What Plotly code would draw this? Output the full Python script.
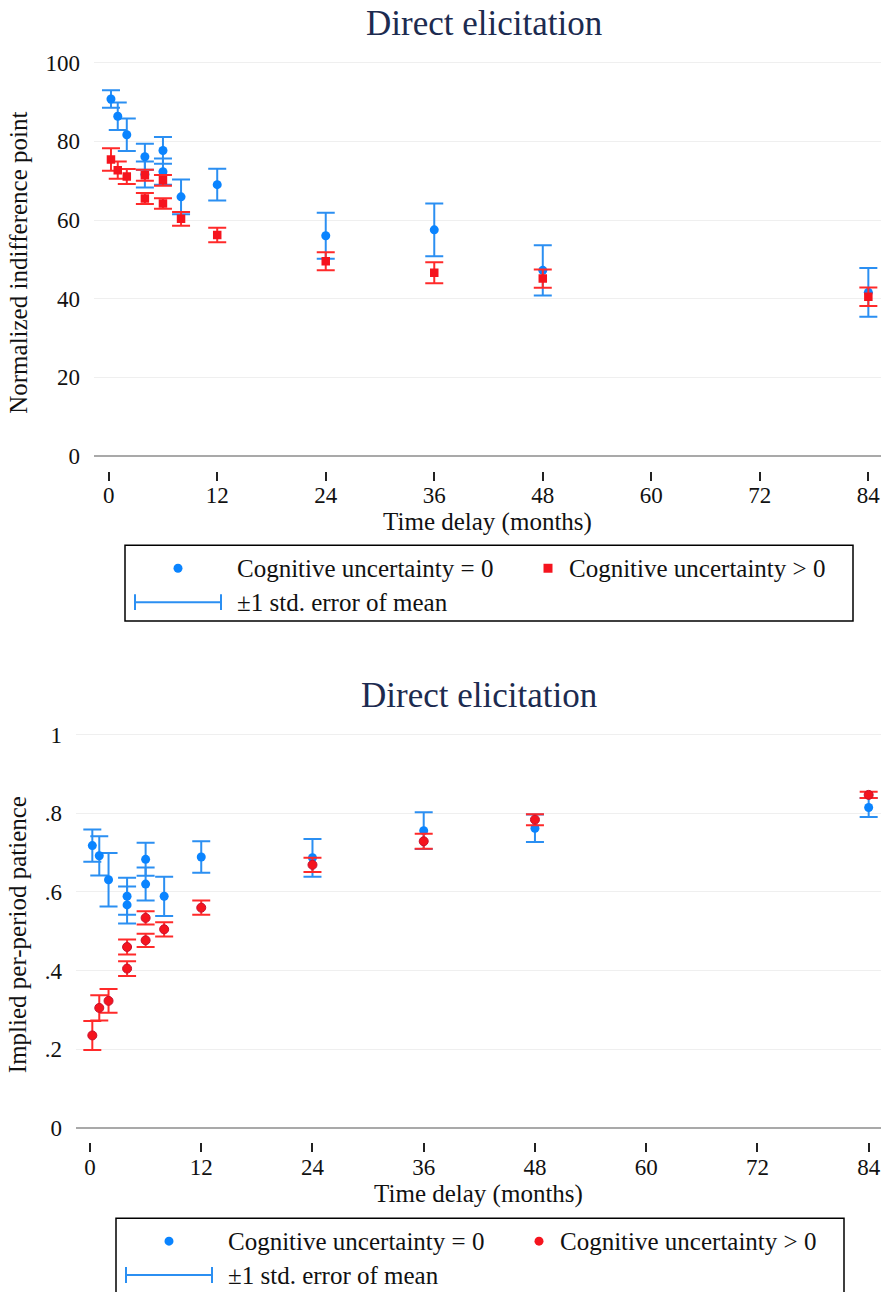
import plotly.graph_objects as go

# ---------------- data ----------------
delay = [0.25, 1, 2, 4, 4, 6, 6, 8, 12, 24, 36, 48, 84]
x_tick_vals = [0, 12, 24, 36, 48, 60, 72, 84]

# top panel: normalized indifference point
norm_cu0 = [90.8, 86.4, 81.7, 76.1, 71.6, 77.7, 72.3, 65.9, 69.0, 56.0, 57.5, 47.2, 41.6]
norm_cu0_se = [2.25, 3.5, 4.15, 3.3, 3.3, 3.4, 3.35, 4.4, 4.05, 5.85, 6.7, 6.4, 6.2]
norm_cu1 = [75.4, 72.7, 71.1, 71.4, 65.5, 70.1, 64.2, 60.3, 56.2, 49.5, 46.6, 45.1, 40.5]
norm_cu1_se = [2.85, 2.2, 1.9, 1.4, 1.4, 1.35, 1.35, 1.75, 1.85, 2.3, 2.65, 2.3, 2.35]
norm_y_ticks = [0, 20, 40, 60, 80, 100]

# bottom panel: implied per-period patience
pat_cu0 = [0.718, 0.692, 0.631, 0.589, 0.567, 0.683, 0.620, 0.589, 0.689, 0.687, 0.756, 0.762, 0.815]
pat_cu0_se = [0.041, 0.05, 0.068, 0.047, 0.047, 0.042, 0.042, 0.05, 0.04, 0.048, 0.047, 0.035, 0.024]
pat_cu1 = [0.235, 0.305, 0.323, 0.460, 0.405, 0.534, 0.477, 0.505, 0.560, 0.669, 0.729, 0.784, 0.847]
pat_cu1_se = [0.037, 0.032, 0.03, 0.019, 0.019, 0.017, 0.017, 0.018, 0.018, 0.018, 0.019, 0.014, 0.008]
pat_y_ticks = [0, 0.2, 0.4, 0.6, 0.8, 1]
pat_y_labels = ["0", ".2", ".4", ".6", ".8", "1"]

title_text = "Direct elicitation"
x_title = "Time delay (months)"
y_title_top = "Normalized indifference point"
y_title_bottom = "Implied per-period patience"
legend_labels = ["Cognitive uncertainty = 0", "Cognitive uncertainty > 0", "±1 std. error of mean"]

# ---------------- style ----------------
W, H = 881, 1292
FONT = "Liberation Serif"
BLUE = "#0a84ff"
BLUE_ERR = "#2b8ff2"
RED = "#f5141e"
RED_ERR = "#ff2a2a"
TITLE_COLOR = "#1c2b50"


def px(x):
    return x / W


def py(y):
    return 1 - y / H


fig = go.Figure()

# top panel
fig.add_trace(go.Scatter(
    x=delay, y=norm_cu0, mode="markers", name=legend_labels[0], showlegend=False,
    marker=dict(color=BLUE, size=9),
    error_y=dict(type="data", array=norm_cu0_se, color=BLUE_ERR, thickness=2, width=9),
    xaxis="x", yaxis="y"))
fig.add_trace(go.Scatter(
    x=delay, y=norm_cu1, mode="markers", name=legend_labels[1], showlegend=False,
    marker=dict(color=RED, size=8.5, symbol="square"),
    error_y=dict(type="data", array=norm_cu1_se, color=RED_ERR, thickness=2, width=9),
    xaxis="x", yaxis="y"))

# bottom panel
fig.add_trace(go.Scatter(
    x=delay, y=pat_cu0, mode="markers", name=legend_labels[0], showlegend=False,
    marker=dict(color=BLUE, size=9),
    error_y=dict(type="data", array=pat_cu0_se, color=BLUE_ERR, thickness=2, width=9),
    xaxis="x2", yaxis="y2"))
fig.add_trace(go.Scatter(
    x=delay, y=pat_cu1, mode="markers", name=legend_labels[1], showlegend=False,
    marker=dict(color=RED, size=9, line=dict(color="#c8102e", width=1)),
    error_y=dict(type="data", array=pat_cu1_se, color=RED_ERR, thickness=2, width=9),
    xaxis="x2", yaxis="y2"))

tickfont = dict(family=FONT, size=23, color="#111")
titlefont = dict(family=FONT, size=25, color="#111")

xcommon = dict(tickvals=x_tick_vals, ticks="outside", ticklen=9, tickwidth=1.5, tickcolor="#222",
               showgrid=False, zeroline=False, showline=False, tickfont=tickfont,
               ticklabelstandoff=-5, fixedrange=True)
ycommon = dict(showgrid=True, gridcolor="#efefef", gridwidth=1, zeroline=True,
               zerolinecolor="#a9a9a9", zerolinewidth=1.6, ticks="", showline=False,
               tickfont=tickfont, ticklabelstandoff=13)

fig.update_layout(
    width=W, height=H, margin=dict(l=0, r=0, t=0, b=0),
    plot_bgcolor="white", paper_bgcolor="white",
    font=dict(family=FONT, color="#111"),
    xaxis=dict(domain=[px(94), 1], range=[-1.626, 85.40], anchor="y",
               title=dict(text=x_title, font=titlefont, standoff=2), **xcommon),
    yaxis=dict(domain=[py(468), py(51)], range=[-3.73, 102.03], anchor="x",
               tickvals=norm_y_ticks,
               title=dict(text=y_title_top, font=titlefont, standoff=10), **ycommon),
    xaxis2=dict(domain=[px(76), 1], range=[-1.51, 85.33], anchor="y2",
                title=dict(text=x_title, font=titlefont, standoff=2), **xcommon),
    yaxis2=dict(domain=[py(1142), py(725)], range=[-0.0373, 1.0203], anchor="x2",
                tickvals=pat_y_ticks, ticktext=pat_y_labels,
                title=dict(text=y_title_bottom, font=titlefont, standoff=10), **ycommon),
)

# titles
annotations = [
    dict(text=title_text, x=px(484), y=py(20), xref="paper", yref="paper",
         showarrow=False, xanchor="center", yanchor="middle",
         font=dict(family=FONT, size=35, color=TITLE_COLOR)),
    dict(text=title_text, x=px(479), y=py(694), xref="paper", yref="paper",
         showarrow=False, xanchor="center", yanchor="middle",
         font=dict(family=FONT, size=35, color=TITLE_COLOR)),
]
shapes = []


def add_legend(left, top, red_symbol):
    # box
    shapes.append(dict(type="rect", xref="paper", yref="paper",
                       x0=px(left), x1=px(left + 728), y0=py(top), y1=py(top + 76),
                       line=dict(color="black", width=1.5), fillcolor="rgba(0,0,0,0)"))
    r1 = top + 23
    r2 = top + 57
    # blue dot
    cx = left + 53
    shapes.append(dict(type="circle", xref="paper", yref="paper",
                       x0=px(cx - 4.5), x1=px(cx + 4.5), y0=py(r1 - 4.5), y1=py(r1 + 4.5),
                       line=dict(color=BLUE, width=0), fillcolor=BLUE))
    # red marker
    rx = left + 423
    shapes.append(dict(type=("rect" if red_symbol == "square" else "circle"),
                       xref="paper", yref="paper",
                       x0=px(rx - 4.5), x1=px(rx + 4.5), y0=py(r1 - 4.5), y1=py(r1 + 4.5),
                       line=dict(color=RED, width=0), fillcolor=RED))
    # error bar symbol
    ex0, ex1 = left + 10, left + 96
    shapes.append(dict(type="line", xref="paper", yref="paper",
                       x0=px(ex0), x1=px(ex1), y0=py(r2), y1=py(r2),
                       line=dict(color=BLUE_ERR, width=2)))
    for ex in (ex0, ex1):
        shapes.append(dict(type="line", xref="paper", yref="paper",
                           x0=px(ex), x1=px(ex), y0=py(r2 - 8), y1=py(r2 + 8),
                           line=dict(color=BLUE_ERR, width=2)))
    lf = dict(family=FONT, size=25, color="#111")
    for txt, tx, ty in ((legend_labels[0], left + 110, r1),
                        (legend_labels[1], left + 442, r1),
                        (legend_labels[2], left + 110, r2)):
        annotations.append(dict(text=txt, x=px(tx), y=py(ty), xref="paper", yref="paper",
                                showarrow=False, xanchor="left", yanchor="middle", font=lf))


add_legend(125, 543, "square")
add_legend(116, 1218, "circle")

fig.update_layout(annotations=annotations, shapes=shapes)

fig.write_html("out.html", config={"displayModeBar": False},
               post_script="document.body.style.margin='0';")
